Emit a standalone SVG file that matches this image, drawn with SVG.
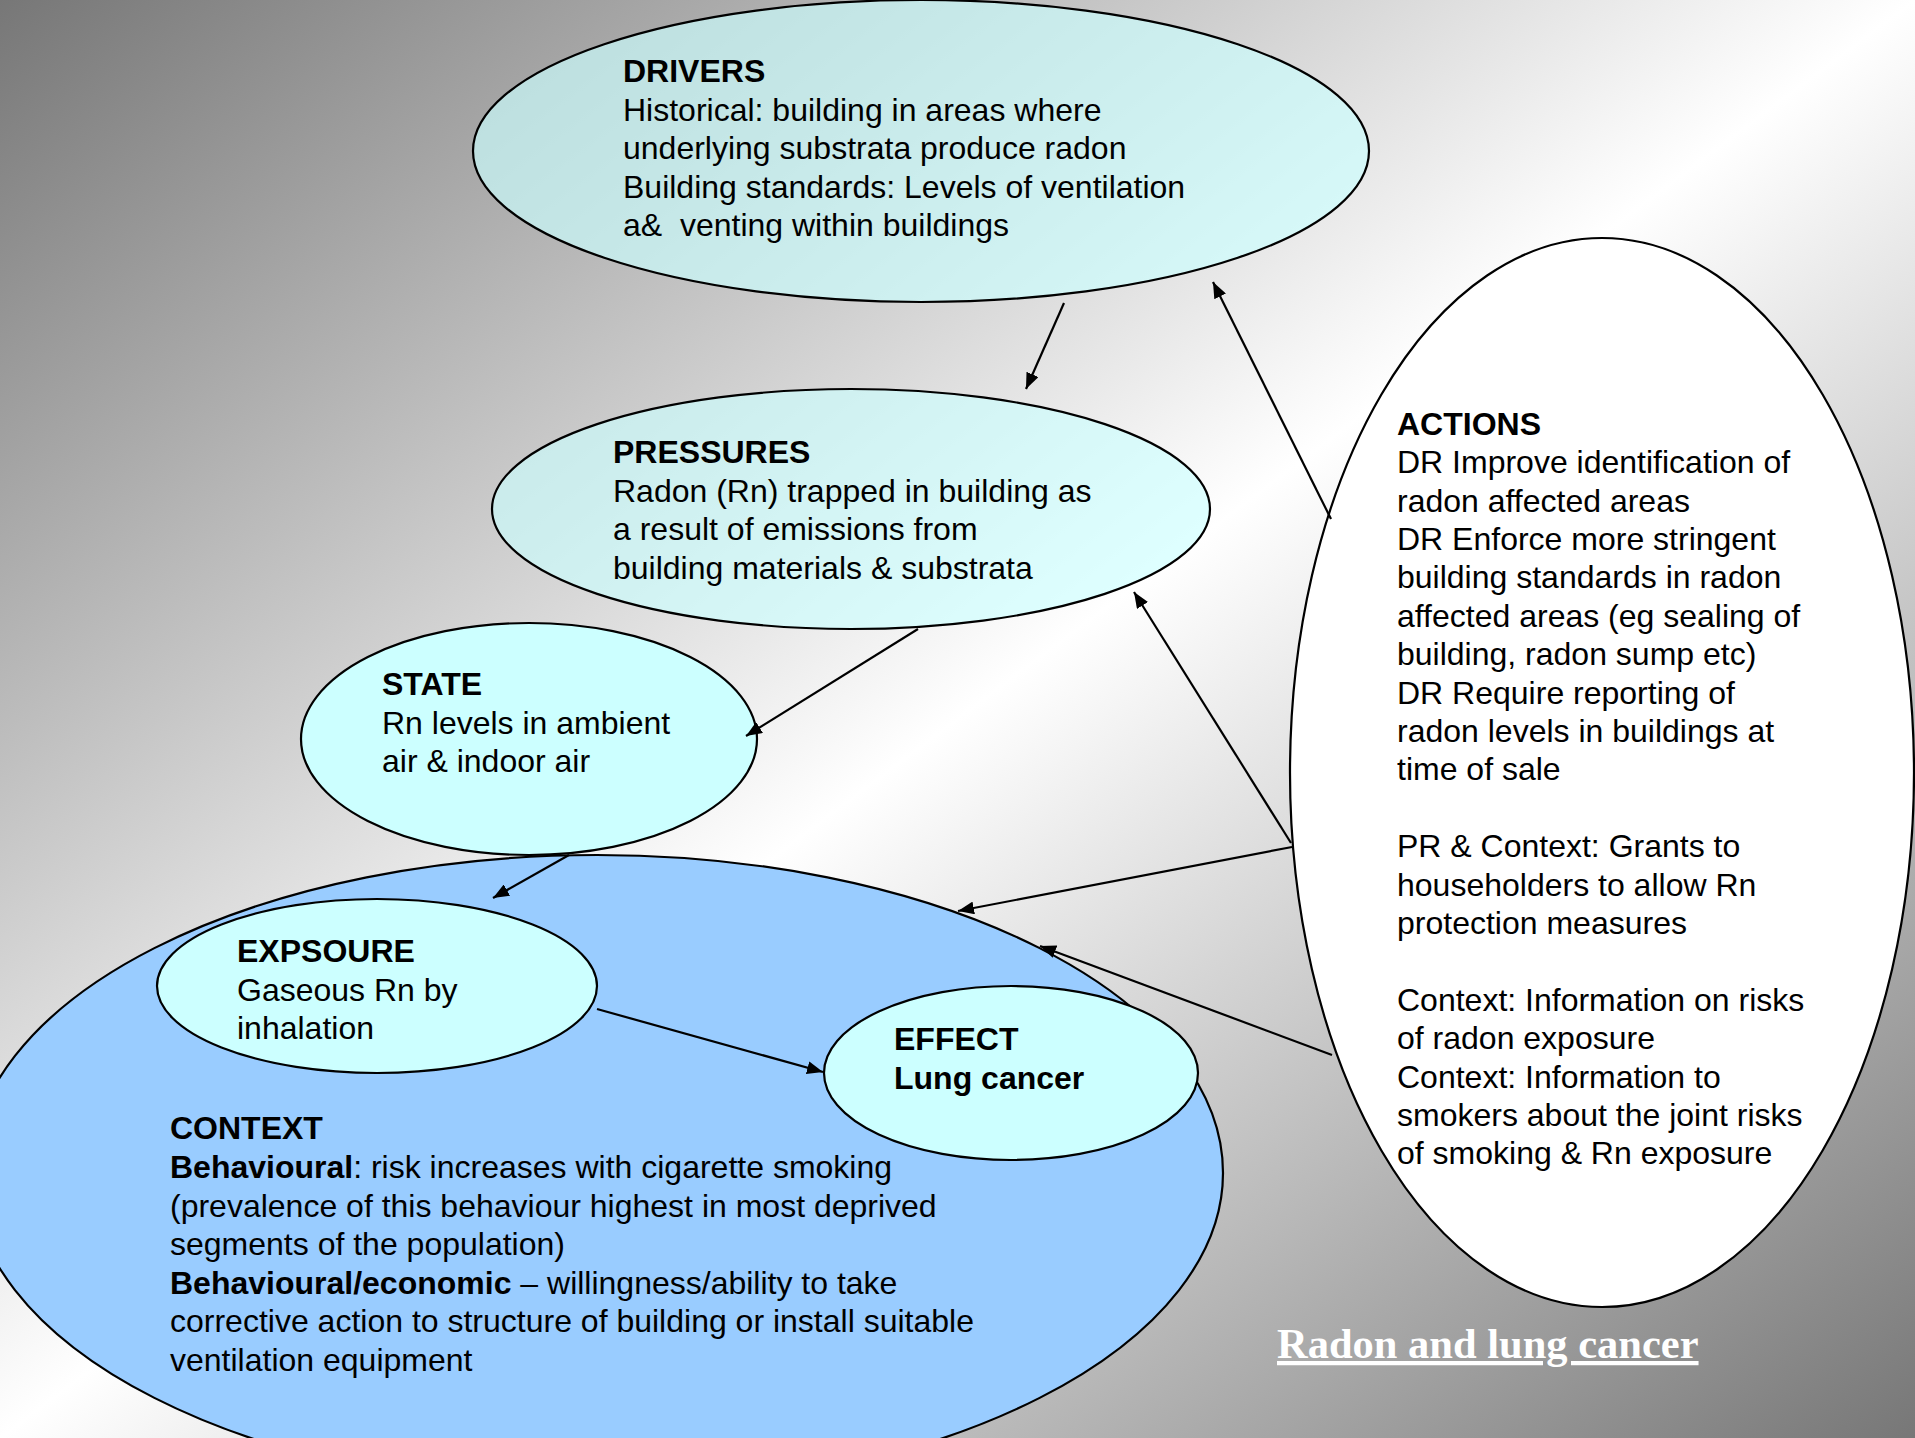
<svg xmlns="http://www.w3.org/2000/svg" width="1915" height="1438" viewBox="0 0 1915 1438">
<defs>
<linearGradient id="bg" x1="0" y1="0" x2="1" y2="1">
<stop offset="0" stop-color="#777777"/>
<stop offset="0.5" stop-color="#ffffff"/>
<stop offset="1" stop-color="#777777"/>
</linearGradient>
<marker id="ah" markerUnits="userSpaceOnUse" markerWidth="17" markerHeight="13" refX="16" refY="6.5" orient="auto">
<path d="M0,0 L16,6.5 L0,13 z" fill="#000"/>
</marker>
<style>
.n{stroke:#000;stroke-width:2.2}
.t{font-family:"Liberation Sans",Arial,sans-serif;font-size:32px;fill:#000;white-space:pre}
.b{font-weight:bold}
.c line{stroke:#000;stroke-width:2.2;marker-end:url(#ah)}
</style>
</defs>
<rect x="0" y="0" width="1915" height="1438" fill="url(#bg)"/>

<g id="context">
<ellipse class="n" cx="597" cy="1173" rx="626" ry="318" fill="#99ccff"/>
<text class="t" x="170"><tspan class="b" y="1139">CONTEXT</tspan><tspan x="170" y="1178"><tspan class="b">Behavioural</tspan>: risk increases with cigarette smoking</tspan><tspan x="170" y="1216.5">(prevalence of this behaviour highest in most deprived</tspan><tspan x="170" y="1255">segments of the population)</tspan><tspan x="170" y="1293.5"><tspan class="b">Behavioural/economic</tspan> – willingness/ability to take</tspan><tspan x="170" y="1332">corrective action to structure of building or install suitable</tspan><tspan x="170" y="1370.5">ventilation equipment</tspan></text>
</g>

<g id="drivers">
<ellipse class="n" cx="921" cy="151" rx="448" ry="151" fill="#ccffff" fill-opacity="0.66"/>
<text class="t" x="623"><tspan class="b" y="82">DRIVERS</tspan><tspan x="623" y="120.5">Historical: building in areas where</tspan><tspan x="623" y="159">underlying substrata produce radon</tspan><tspan x="623" y="197.5">Building standards: Levels of ventilation</tspan><tspan x="623" y="236">a&amp;  venting within buildings</tspan></text>
</g>

<g id="pressures">
<ellipse class="n" cx="851" cy="509" rx="359" ry="120" fill="#ccffff" fill-opacity="0.64"/>
<text class="t" x="613"><tspan class="b" y="463">PRESSURES</tspan><tspan x="613" y="501.5">Radon (Rn) trapped in building as</tspan><tspan x="613" y="540">a result of emissions from</tspan><tspan x="613" y="578.5">building materials &amp; substrata</tspan></text>
</g>

<g id="state">
<ellipse class="n" cx="529" cy="739" rx="228" ry="116" fill="#ccffff"/>
<text class="t" x="382"><tspan class="b" y="695">STATE</tspan><tspan x="382" y="733.5">Rn levels in ambient</tspan><tspan x="382" y="772">air &amp; indoor air</tspan></text>
</g>

<g id="exposure">
<ellipse class="n" cx="377" cy="986" rx="220" ry="87" fill="#ccffff"/>
<text class="t" x="237"><tspan class="b" y="962">EXPSOURE</tspan><tspan x="237" y="1000.5">Gaseous Rn by</tspan><tspan x="237" y="1039">inhalation</tspan></text>
</g>

<g id="effect">
<ellipse class="n" cx="1011" cy="1073" rx="187" ry="87" fill="#ccffff"/>
<text class="t b" x="894"><tspan y="1050">EFFECT</tspan><tspan x="894" y="1088.5">Lung cancer</tspan></text>
</g>

<g id="actions">
<ellipse class="n" cx="1602" cy="772.5" rx="312" ry="534.5" fill="#ffffff"/>
<text class="t" x="1397"><tspan class="b" y="434.8">ACTIONS</tspan><tspan x="1397" y="473.2">DR Improve identification of</tspan><tspan x="1397" y="511.6">radon affected areas</tspan><tspan x="1397" y="550">DR Enforce more stringent</tspan><tspan x="1397" y="588.4">building standards in radon</tspan><tspan x="1397" y="626.8">affected areas (eg sealing of</tspan><tspan x="1397" y="665.2">building, radon sump etc)</tspan><tspan x="1397" y="703.6">DR Require reporting of</tspan><tspan x="1397" y="742">radon levels in buildings at</tspan><tspan x="1397" y="780.4">time of sale</tspan><tspan x="1397" y="857.2">PR &amp; Context: Grants to</tspan><tspan x="1397" y="895.6">householders to allow Rn</tspan><tspan x="1397" y="934">protection measures</tspan><tspan x="1397" y="1010.8">Context: Information on risks</tspan><tspan x="1397" y="1049.2">of radon exposure</tspan><tspan x="1397" y="1087.6">Context: Information to</tspan><tspan x="1397" y="1126">smokers about the joint risks</tspan><tspan x="1397" y="1164.4">of smoking &amp; Rn exposure</tspan></text>
</g>

<g id="connectors" class="c">
<line x1="1064" y1="303" x2="1026" y2="389"/>
<line x1="918" y1="629" x2="746" y2="736"/>
<line x1="569" y1="855" x2="493" y2="898"/>
<line x1="597" y1="1009" x2="823" y2="1072"/>
<line x1="1331" y1="519" x2="1213" y2="282"/>
<line x1="1291" y1="843" x2="1134" y2="592"/>
<line x1="1292" y1="847" x2="958" y2="911"/>
<line x1="1332" y1="1055" x2="1040" y2="946"/>
</g>

<g id="title">
<text x="1277" y="1358" font-family="'Liberation Serif','Times New Roman',serif" font-size="42.5" font-weight="bold" fill="#ffffff" text-decoration="underline">Radon and lung cancer</text>
</g>
</svg>
